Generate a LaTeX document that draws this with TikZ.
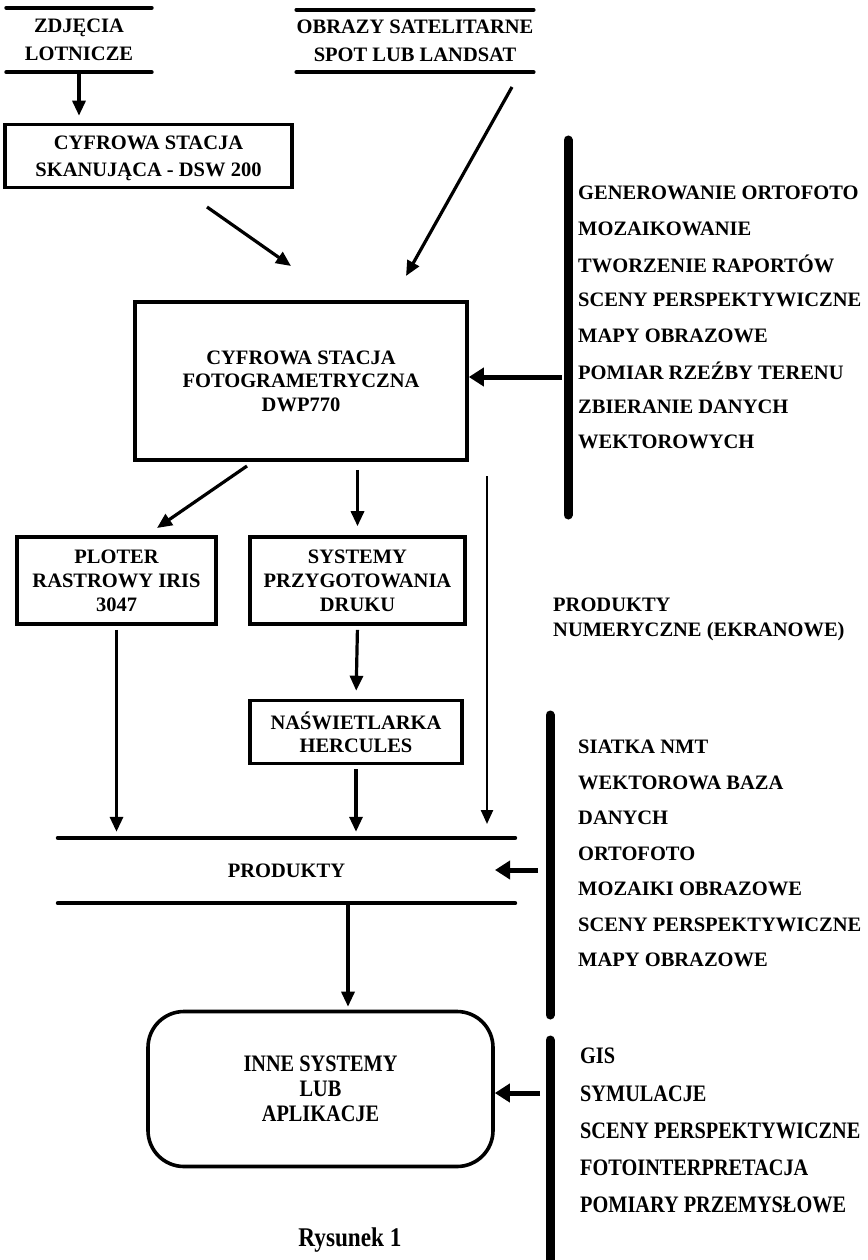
\documentclass[tikz,border=0pt]{standalone}
\usepackage{fontspec}
\setmainfont{Liberation Serif}
\newfontfamily\narrowfont[FakeStretch=0.86]{Liberation Serif}
\usetikzlibrary{arrows.meta,calc}
\newcommand{\bff}[2]{\bfseries\fontsize{#1}{#2}\selectfont}
\newcommand{\nbf}[2]{\narrowfont\bfseries\fontsize{#1}{#2}\selectfont}
\tikzset{
  txt/.style={font=\bff{20.5}{24}, align=center, inner sep=0pt, text depth=0pt},
  boxnode/.style={draw, line width=3.6pt, txt},
  hline/.style={line width=4pt, line cap=round},
  bar/.style={line width=9pt, line cap=round},
  arr/.style={line width=3.2pt, -{Triangle[length=15pt,width=13pt]}},
  thickarr/.style={line width=5pt, -{Triangle[length=15pt,width=18pt]}},
  thinarr/.style={line width=2.4pt, -{Triangle[length=14pt,width=12pt]}},
  item/.style={font=\bff{20.5}{24}, anchor=west, inner sep=0pt},
  nitem/.style={font=\nbf{23.6}{24}, anchor=west, inner sep=0pt},
}
\begin{document}
\begin{tikzpicture}[x=1pt,y=-1pt]
\useasboundingbox[fill=white] (0,0) rectangle (867,1260);

% sources
\node[txt, font=\bff{20.5}{28}, minimum width=145pt, minimum height=64pt] (zd) at (79,40) {ZDJĘCIA\\LOTNICZE};
\draw[hline] (zd.north west) -- (zd.north east);
\draw[hline] (zd.south west) -- (zd.south east);

\node[txt, font=\bff{20.5}{28}, minimum width=194pt, minimum height=62pt] (sat) at (415,41) {OBRAZY SATELITARNE\\SPOT LUB LANDSAT};
\draw[hline] (sat.north west) -- (sat.north east);
\draw[hline] (sat.south west) -- (sat.south east);

% boxes
\node[boxnode, font=\bff{20.5}{27}, minimum width=287pt, minimum height=63pt] (dsw) at (148.5,156) {CYFROWA STACJA\\SKANUJĄCA - DSW 200};
\node[boxnode, font=\bff{20.5}{23.5}, minimum width=332pt, minimum height=158pt] (fot) at (301,381) {CYFROWA STACJA\\FOTOGRAMETRYCZNA\\DWP770};
\node[boxnode, minimum width=199pt, minimum height=87pt] (plo) at (116.5,580.5) {PLOTER\\RASTROWY IRIS\\3047};
\node[boxnode, minimum width=215pt, minimum height=87pt] (sys) at (357.5,580.5) {SYSTEMY\\PRZYGOTOWANIA\\DRUKU};
\node[boxnode, font=\bff{20.5}{23.5}, minimum width=212pt, minimum height=63pt] (nas) at (356,732) {NAŚWIETLARKA\\HERCULES};

\node[txt, minimum width=457pt, minimum height=65pt] (prod) at (286.5,870.5) {PRODUKTY};
\draw[hline] (prod.north west) -- (prod.north east);
\draw[hline] (prod.south west) -- (prod.south east);

\node[draw, line width=3.6pt, rounded corners=36pt, txt, font=\nbf{23.6}{25}, minimum width=345pt, minimum height=155pt] (inne) at (320.5,1089) {INNE SYSTEMY\\LUB\\APLIKACJE};

\node[txt, align=left, anchor=west, font=\bff{20.5}{25}] (num) at (553,617.5) {PRODUKTY\\NUMERYCZNE (EKRANOWE)};

\node[font=\nbf{27}{30}, inner sep=0pt] (rys) at (350,1240) {Rysunek 1};

% side bars
\coordinate (b1t) at (568,140); \coordinate (b1b) at (568,515);
\draw[bar] (b1t) -- (b1b);
\coordinate (b2t) at (550,715); \coordinate (b2b) at (550,1015);
\draw[bar] (b2t) -- (b2b);
\coordinate (b3t) at (550,1040); \coordinate (b3b) at (550,1266);
\draw[bar] (b3t) -- (b3b);

% lists
\foreach \t [count=\i from 0] in {GENEROWANIE ORTOFOTO, MOZAIKOWANIE, TWORZENIE RAPORTÓW, SCENY PERSPEKTYWICZNE, MAPY OBRAZOWE, POMIAR RZEŹBY TERENU, ZBIERANIE DANYCH, WEKTOROWYCH}
  \node[item] (la\i) at (578,193+35.6*\i) {\t};
\foreach \t [count=\i from 0] in {SIATKA NMT, WEKTOROWA BAZA, DANYCH, ORTOFOTO, MOZAIKI OBRAZOWE, SCENY PERSPEKTYWICZNE, MAPY OBRAZOWE}
  \node[item] (lb\i) at (578,747+35.5*\i) {\t};
\foreach \t [count=\i from 0] in {GIS, SYMULACJE, SCENY PERSPEKTYWICZNE, FOTOINTERPRETACJA, POMIARY PRZEMYSŁOWE}
  \node[nitem] (lc\i) at (580,1056+37.3*\i) {\t};

% connectors
\draw[arr, shorten >=7pt] (zd.south) -- (zd.south |- dsw.north);
\coordinate (s1) at (512,87); \coordinate (s2) at (406,276);
\draw[arr] (s1) -- (s2);
\coordinate (d1) at (207,207); \coordinate (d2) at (291,266);
\draw[arr] (d1) -- (d2);
\coordinate (h1) at (562,377);
\draw[thickarr] (h1) -- (h1 -| fot.east);

\coordinate (f1) at (247,466); \coordinate (f2) at (157,528);
\draw[arr] (f1) -- (f2);
\draw[arr, shorten <=8pt, shorten >=9pt] (sys.north |- fot.south) -- (sys.north);
\coordinate (f3) at (487,476); \coordinate (f4) at (487,824);
\draw[thinarr] (f3) -- (f4);
\draw[arr, shorten <=4pt, shorten >=8pt] (sys.south) -- (nas.north);
\draw[arr, shorten <=4pt, shorten >=6pt] (plo.south) -- (plo.south |- prod.north);
\draw[arr, shorten <=4pt, shorten >=6pt] (nas.south) -- (nas.south |- prod.north);
\coordinate (p1) at (538,870);
\draw[thickarr] (p1) -- (495,870);
\coordinate (pa) at (348,905);
\draw[arr, shorten >=3pt] (pa) -- (pa |- inne.north);
\coordinate (p2) at (540,1093);
\draw[thickarr] (p2) -- (p2 -| inne.east);
\end{tikzpicture}
\end{document}
